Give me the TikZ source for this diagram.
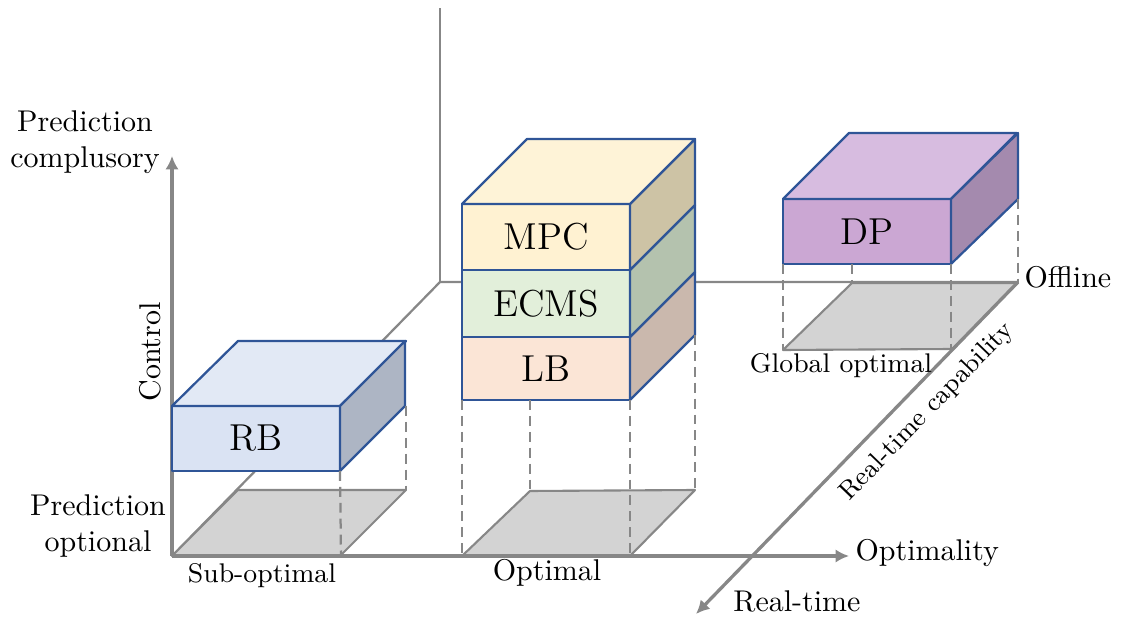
\documentclass[tikz,border=0pt]{standalone}
\usetikzlibrary{arrows.meta}
\definecolor{rbfront}{HTML}{DAE3F3}
\definecolor{rbtop}{HTML}{E2E9F5}
\definecolor{rbside}{HTML}{ADB5C4}
\definecolor{mpcfront}{HTML}{FFF2D2}
\definecolor{mpctop}{HTML}{FEF3D7}
\definecolor{mpcside}{HTML}{CDC3A5}
\definecolor{ecmsfront}{HTML}{E2EFDA}
\definecolor{ecmsside}{HTML}{B4C2AE}
\definecolor{lbfront}{HTML}{FBE5D6}
\definecolor{lbside}{HTML}{CAB8AD}
\definecolor{dpfront}{HTML}{CBA7D3}
\definecolor{dptop}{HTML}{D7BCE0}
\definecolor{dpside}{HTML}{A48AAE}
\definecolor{planefill}{HTML}{D3D3D3}
\definecolor{boxedge}{HTML}{2F5597}
\definecolor{axisgray}{HTML}{878787}
\begin{document}
\begin{tikzpicture}[x=0.3333pt,y=-0.3333pt,
  axis/.style={draw=axisgray,line width=1.1pt,-{Latex[length=4.5pt,width=4.5pt]}},
  backline/.style={draw=axisgray,line width=0.75pt},
  plane/.style={draw=axisgray,fill=planefill,line width=0.7pt,line join=round},
  dashline/.style={draw=axisgray,line width=0.75pt,dash pattern=on 3.3pt off 2pt},
  face/.style={draw=boxedge,line width=0.75pt,line join=round},
  front/.style={face,inner sep=0pt,outer sep=0pt,anchor=north west,font=\fontsize{12.5}{14}\selectfont,minimum width={168*0.3333pt}},
  lbl/.style={inner sep=1pt,font=\normalsize},
  slbl/.style={inner sep=1pt,font=\small}]
\useasboundingbox (0,0) rectangle (1121,620);
% key coordinates
\coordinate (O) at (172,556);
\coordinate (B) at (440,282);
\coordinate (Btop) at (440,8);
\coordinate (Off) at (1018,282);
\coordinate (Ytip) at (172,156);
\coordinate (Xtip) at (849,556);
\coordinate (Ztip) at (696,614);
% back frame
\draw[backline] (O) -- (B) -- (Off);
\draw[backline] (B) -- (Btop);
\draw[axis] (O) -- (Ytip);
% projection planes
\draw[plane] (172,556) -- (340,556) -- (406,490) -- (238,490) -- cycle;
\draw[plane] (462,556) -- (630,556) -- (695,490) -- (530,491) -- cycle;
\draw[plane] (783,350) -- (952,349) -- (1018,283) -- (852,283) -- cycle;
% axes on top of planes
\draw[axis] (O) -- (Xtip);
\draw[axis] (Off) -- (Ztip);
% RB box
\node[front,fill=rbfront,minimum height={65*0.3333pt}] (rb) at (172,406) {RB};
\draw[face,fill=rbtop] (rb.north west) -- ++(66,-65) -- ++(168,0) -- (rb.north east) -- cycle;
\draw[face,fill=rbside] (rb.north east) -- ++(65,-65) -- ++(0,65) -- (rb.south east) -- cycle;
\draw[dashline] (rb.south east) -- (341,556);
\draw[dashline] (406,406) -- (406,490);
% center stack
\node[front,fill=lbfront,minimum height={63*0.3333pt}] (lb) at (462,337) {LB};
\node[front,fill=ecmsfront,minimum height={67*0.3333pt}] (ecms) at (462,270) {ECMS};
\node[front,fill=mpcfront,minimum height={66*0.3333pt}] (mpc) at (462,204) {MPC};
\draw[face,fill=lbside] (lb.north east) -- ++(65,-65) -- ++(0,63) -- (lb.south east) -- cycle;
\draw[face,fill=ecmsside] (ecms.north east) -- ++(65,-65) -- ++(0,67) -- (ecms.south east) -- cycle;
\draw[face,fill=mpcside] (mpc.north east) -- ++(65,-65) -- ++(0,66) -- (mpc.south east) -- cycle;
\draw[face,fill=mpctop] (mpc.north west) -- ++(65,-65) -- ++(168,0) -- (mpc.north east) -- cycle;
\draw[dashline] (lb.south west) -- (462,556);
\draw[dashline] (530,400) -- (530,491);
\draw[dashline] (lb.south east) -- (630,556);
\draw[dashline] (695,335) -- (695,490);
% DP box
\node[front,fill=dpfront,minimum height={65*0.3333pt}] (dp) at (783,199) {DP};
\draw[face,fill=dptop] (dp.north west) -- ++(66,-66) -- ++(168,0) -- (dp.north east) -- cycle;
\draw[face,fill=dpside] (dp.north east) -- ++(67,-66) -- ++(0,66) -- (dp.south east) -- cycle;
\draw[dashline] (dp.south west) -- (783,350);
\draw[dashline] (852,264) -- (852,283);
\draw[dashline] (dp.south east) -- (951,349);
\draw[dashline] (1018,199) -- (1018,283);
% labels
\node[lbl,align=center] (pc) at (85,142) {Prediction\\complusory};
\node[lbl,align=center] (po) at (98,526) {Prediction\\optional};
\node[lbl,rotate=90] (ctl) at (150,352) {Control};
\node[slbl] (sub) at (262,576) {Sub-optimal};
\node[lbl] (opt) at (547,573) {Optimal};
\node[slbl] (glob) at (841,366) {Global optimal};
\node[lbl,anchor=west] (optm) at (852,553) {Optimality};
\node[lbl,anchor=west] (offl) at (1021,277) {Offline};
\node[lbl] (rt) at (797,601) {Real-time};
\node[inner sep=0pt,rotate=46,font=\fontsize{8.7}{10}\selectfont] (rtc) at (927,412) {Real-time capability};
\end{tikzpicture}
\end{document}
